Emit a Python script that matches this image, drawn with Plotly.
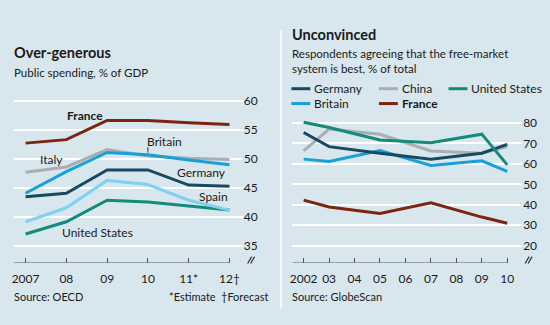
import plotly.graph_objects as go

# ---------------- data ----------------
years_l = [2007, 2008, 2009, 2010, 2011, 2012]
tick_l = ["2007", "08", "09", "10", "11*", "12†"]
france_l = [52.7, 53.3, 56.6, 56.6, 56.2, 55.9]
italy_l = [47.7, 48.6, 51.6, 50.5, 50.1, 49.9]
britain_l = [44.1, 47.8, 51.1, 50.7, 49.8, 49.0]
germany_l = [43.5, 44.1, 48.1, 48.1, 45.5, 45.3]
spain_l = [39.2, 41.6, 46.3, 45.6, 42.9, 41.2]
us_l = [37.1, 39.2, 42.9, 42.6, 41.9, 41.2]

years_r = [2002, 2003, 2005, 2007, 2009, 2010]
tickvals_r = [2002, 2003, 2004, 2005, 2006, 2007, 2008, 2009, 2010]
tick_r = ["2002", "03", "04", "05", "06", "07", "08", "09", "10"]
germany_r = [75.3, 68.4, 65.2, 62.3, 65.2, 69.5]
china_r = [66.3, 77.0, 74.4, 66.3, 65.2, 68.4]
us_r = [80.3, 77.7, 71.6, 70.3, 74.5, 59.5]
britain_r = [62.3, 61.1, 66.5, 59.2, 61.5, 56.3]
france_r = [42.3, 38.9, 35.8, 41.0, 34.0, 31.0]

# ---------------- style ----------------
W, H = 550, 325
BG = "#d8e6ee"
C_FR = "#7b2410"
C_GR = "#a9aeb0"
C_BR = "#17a0da"
C_DE = "#174a60"
C_ES = "#7fd2f2"
C_US = "#138b7b"
FONT = "Lato"
TXT = "#1a1a1a"
LW = 3

def px(x):
    return x / W

def py(y):
    return 1 - y / H

fig = go.Figure()

def add(xs, ys, color, xa, ya):
    fig.add_trace(go.Scatter(x=xs, y=ys, mode="lines", xaxis=xa, yaxis=ya,
                             line=dict(color=color, width=LW), showlegend=False,
                             hoverinfo="skip"))

# left chart (draw order: back to front)
add(years_l, us_l, C_US, "x", "y")
add(years_l, spain_l, C_ES, "x", "y")
add(years_l, germany_l, C_DE, "x", "y")
add(years_l, italy_l, C_GR, "x", "y")
add(years_l, britain_l, C_BR, "x", "y")
add(years_l, france_l, C_FR, "x", "y")

# right chart
add(years_r, france_r, C_FR, "x2", "y2")
add(years_r, britain_r, C_BR, "x2", "y2")
add(years_r, china_r, C_GR, "x2", "y2")
add(years_r, germany_r, C_DE, "x2", "y2")
add(years_r, us_r, C_US, "x2", "y2")

# axes geometry
L_x0, L_x1 = 11, 241
R_x0, R_x1 = 291, 522
Y_bot_l, Y_top_l = 262, 94
Y_bot_r, Y_top_r = 262, 114

# left: 41 px per year, 5.88 px per unit
xl_range = [2007 - (22.7 - L_x0) / 41.0, 2012 + (L_x1 - 227.7) / 41.0]
yl_range = [35 - (Y_bot_l - 245.5) / 5.88, 60 + (98.5 - Y_top_l) / 5.88]
# right: 25.59 px per year, 2.067 px per unit
xr_range = [2002 - (302.3 - R_x0) / 25.59, 2010 + (R_x1 - 507) / 25.59]
yr_range = [20 - (Y_bot_r - 245) / 2.067, 80 + (121 - Y_top_r) / 2.067]

tickfont = dict(family=FONT, size=12, color=TXT)

fig.update_layout(
    width=W, height=H, paper_bgcolor=BG, plot_bgcolor=BG,
    margin=dict(l=0, r=0, t=0, b=0),
    font=dict(family=FONT, color=TXT),
    xaxis=dict(domain=[px(L_x0), px(L_x1)], range=xl_range, tickvals=years_l,
               ticktext=tick_l, showgrid=False, zeroline=False, showline=False,
               ticks="inside", ticklen=5, tickcolor="#555", tickwidth=1,
               ticklabelstandoff=7, tickfont=tickfont, fixedrange=True),
    yaxis=dict(domain=[py(Y_bot_l), py(Y_top_l)], range=yl_range,
               tickvals=[35, 40, 45, 50, 55, 60], side="right",
               showgrid=True, gridcolor="white", gridwidth=1.5, zeroline=False,
               showline=False, ticks="", tickfont=tickfont, fixedrange=True),
    xaxis2=dict(domain=[px(R_x0), px(R_x1)], range=xr_range, tickvals=tickvals_r,
                ticktext=tick_r, showgrid=False, zeroline=False, showline=False,
                ticks="inside", ticklen=5, tickcolor="#555", tickwidth=1,
                ticklabelstandoff=7, tickfont=tickfont, anchor="y2", fixedrange=True),
    yaxis2=dict(domain=[py(Y_bot_r), py(Y_top_r)], range=yr_range,
                tickvals=[20, 30, 40, 50, 60, 70, 80], side="right", anchor="x2",
                showgrid=True, gridcolor="white", gridwidth=1.5, zeroline=False,
                showline=False, ticks="", tickfont=tickfont, fixedrange=True),
)

shapes = []
# baselines
shapes.append(dict(type="line", xref="x", yref="y", x0=xl_range[0], x1=2012,
                   y0=yl_range[0], y1=yl_range[0], line=dict(color="#555", width=1)))
shapes.append(dict(type="line", xref="x2", yref="y2", x0=xr_range[0], x1=2010,
                   y0=yr_range[0], y1=yr_range[0], line=dict(color="#555", width=1)))
# axis break marks
for bx in (248, 527):
    for dx in (0, 3):
        shapes.append(dict(type="line", xref="paper", yref="paper",
                           x0=px(bx + dx - 2), x1=px(bx + dx + 2),
                           y0=py(263), y1=py(256), line=dict(color="#333", width=1.2)))
# divider
shapes.append(dict(type="line", xref="paper", yref="paper", x0=px(279.5), x1=px(279.5),
                   y0=py(28), y1=py(308), line=dict(color="white", width=1.5)))
# Britain leader line
shapes.append(dict(type="line", xref="paper", yref="paper", x0=px(145.7), x1=px(145.7),
                   y0=py(145.5), y1=py(151), line=dict(color="#333", width=1)))

# legend swatches (right chart)
legend_items = [
    (290, 86.5, C_DE, "Germany", False),
    (378, 86.5, C_GR, "China", False),
    (448, 86.5, C_US, "United States", False),
    (290, 101.5, C_BR, "Britain", False),
    (378, 101.5, C_FR, "France", True),
]
for lx, ly, c, name, bold in legend_items:
    shapes.append(dict(type="line", xref="paper", yref="paper", x0=px(lx), x1=px(lx + 19),
                       y0=py(ly), y1=py(ly), line=dict(color=c, width=3)))

fig.update_layout(shapes=shapes)

ann = []

def text(x, y, s, size=12, bold=False, anchor="left", color=TXT):
    ann.append(dict(xref="paper", yref="paper", x=px(x), y=py(y), text=(f"<b>{s}</b>" if bold else s),
                    showarrow=False, xanchor=anchor, yanchor="middle", align="left",
                    font=dict(family=FONT, size=size, color=color)))

for lx, ly, c, name, bold in legend_items:
    text(lx + 21, ly, name, size=12, bold=bold)

text(9, 50, "Over-generous", size=14.5, bold=True)
text(9, 70, "Public spending, % of GDP", size=11.5)
text(289, 31.5, "Unconvinced", size=14.5, bold=True)
text(289, 58.5, "Respondents agreeing that the free-market<br>system is best, % of total", size=11.5)

# series labels left
text(62, 114, "France", bold=True)
text(142.5, 140, "Britain")
text(35, 157.5, "Italy")
text(173, 171.5, "Germany")
text(195.5, 195, "Spain")
text(57, 232, "United States")

# sources
text(9, 296.5, "Source: OECD", size=11)
text(165, 296.5, "*Estimate", size=11)
text(217, 296.5, "†Forecast", size=11)
text(289, 296.5, "Source: GlobeScan", size=11)

fig.update_layout(annotations=ann)

fig.write_html("out.html")
